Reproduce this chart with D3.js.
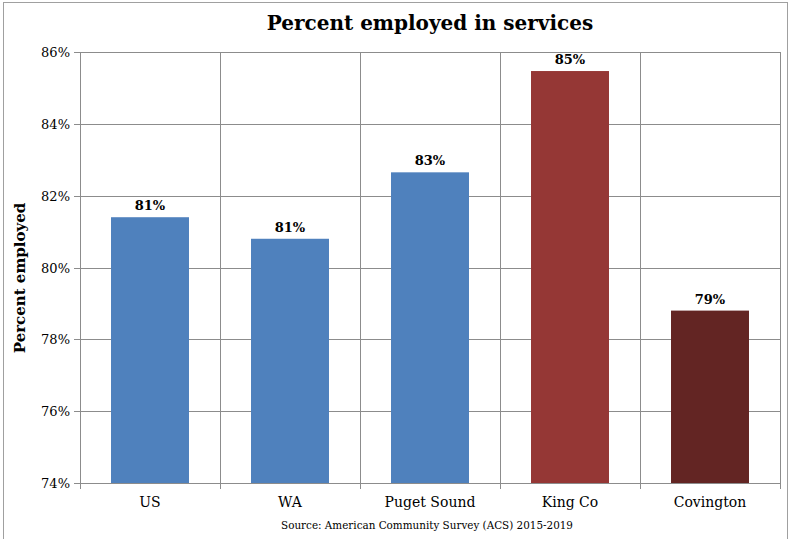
<!DOCTYPE html>
<html>
<head>
<meta charset="utf-8">
<script src="https://d3js.org/d3.v7.min.js"></script>
<style>
  body { margin: 0; background: #fff; }
  text { font-family: "DejaVu Serif", serif; fill: #000; }
</style>
</head>
<body>
<script>
// chart data
var categories = ["US", "WA", "Puget Sound", "King Co", "Covington"];
var values = [81.4, 80.8, 82.65, 85.47, 78.8];
var barColors = ["#4f81bd", "#4f81bd", "#4f81bd", "#953735", "#632523"];
var yTicks = [74, 76, 78, 80, 82, 84, 86];

var width = 793, height = 539;
var margin = {top: 52, right: 13, bottom: 56, left: 80};

var svg = d3.select("body").append("svg")
    .attr("width", width)
    .attr("height", height);

// outer chart border
svg.append("rect")
    .attr("x", 3.5).attr("y", 2.5)
    .attr("width", 784).attr("height", 540)
    .attr("fill", "#fff")
    .attr("stroke", "#a0a0a0");

var x = d3.scaleBand()
    .domain(categories)
    .range([margin.left, width - margin.right])
    .paddingInner(0.443)
    .paddingOuter(0.2215);

var y = d3.scaleLinear()
    .domain([74, 86])
    .range([height - margin.bottom, margin.top]);

// horizontal gridlines
svg.append("g")
    .selectAll("line")
    .data(yTicks)
    .enter().append("line")
    .attr("x1", margin.left - 6)
    .attr("x2", width - margin.right)
    .attr("y1", function(d) { return Math.round(y(d)) + 0.5; })
    .attr("y2", function(d) { return Math.round(y(d)) + 0.5; })
    .attr("stroke", "#8c8c8c");

// vertical gridlines between categories
var vlines = d3.range(categories.length + 1).map(function(i) {
    return margin.left + i * (width - margin.left - margin.right) / categories.length;
});
svg.append("g")
    .selectAll("line")
    .data(vlines)
    .enter().append("line")
    .attr("x1", function(d) { return Math.round(d) + 0.5; })
    .attr("x2", function(d) { return Math.round(d) + 0.5; })
    .attr("y1", margin.top)
    .attr("y2", height - margin.bottom + 6)
    .attr("stroke", "#8c8c8c");

// bars
svg.append("g")
    .selectAll("rect")
    .data(values)
    .enter().append("rect")
    .attr("x", function(d, i) { return x(categories[i]); })
    .attr("width", x.bandwidth())
    .attr("y", function(d) { return y(d); })
    .attr("height", function(d) { return y(74) - y(d); })
    .attr("fill", function(d, i) { return barColors[i]; });

// value labels
svg.append("g")
    .selectAll("text")
    .data(values)
    .enter().append("text")
    .attr("x", function(d, i) { return x(categories[i]) + x.bandwidth() / 2; })
    .attr("y", function(d) { return y(d) - 7; })
    .attr("text-anchor", "middle")
    .style("font-size", "13px")
    .style("font-weight", "bold")
    .text(function(d) { return Math.round(d) + "%"; });

// y tick labels
svg.append("g")
    .selectAll("text")
    .data(yTicks)
    .enter().append("text")
    .attr("x", margin.left - 10)
    .attr("y", function(d) { return y(d) + 5; })
    .attr("text-anchor", "end")
    .style("font-size", "13px")
    .text(function(d) { return d + "%"; });

// x labels
svg.append("g")
    .selectAll("text")
    .data(categories)
    .enter().append("text")
    .attr("x", function(d) { return x(d) + x.bandwidth() / 2; })
    .attr("y", height - margin.bottom + 24)
    .attr("text-anchor", "middle")
    .style("font-size", "14px")
    .text(function(d) { return d; });

// title
svg.append("text")
    .attr("x", 430)
    .attr("y", 30)
    .attr("text-anchor", "middle")
    .style("font-size", "20px")
    .style("font-weight", "bold")
    .text("Percent employed in services");

// y axis title
svg.append("text")
    .attr("transform", "translate(25,278) rotate(-90)")
    .attr("text-anchor", "middle")
    .style("font-size", "15px")
    .style("font-weight", "bold")
    .text("Percent employed");

// source note
svg.append("text")
    .attr("x", 427)
    .attr("y", 529)
    .attr("text-anchor", "middle")
    .style("font-size", "10.4px")
    .text("Source: American Community Survey (ACS) 2015-2019");
</script>
</body>
</html>
